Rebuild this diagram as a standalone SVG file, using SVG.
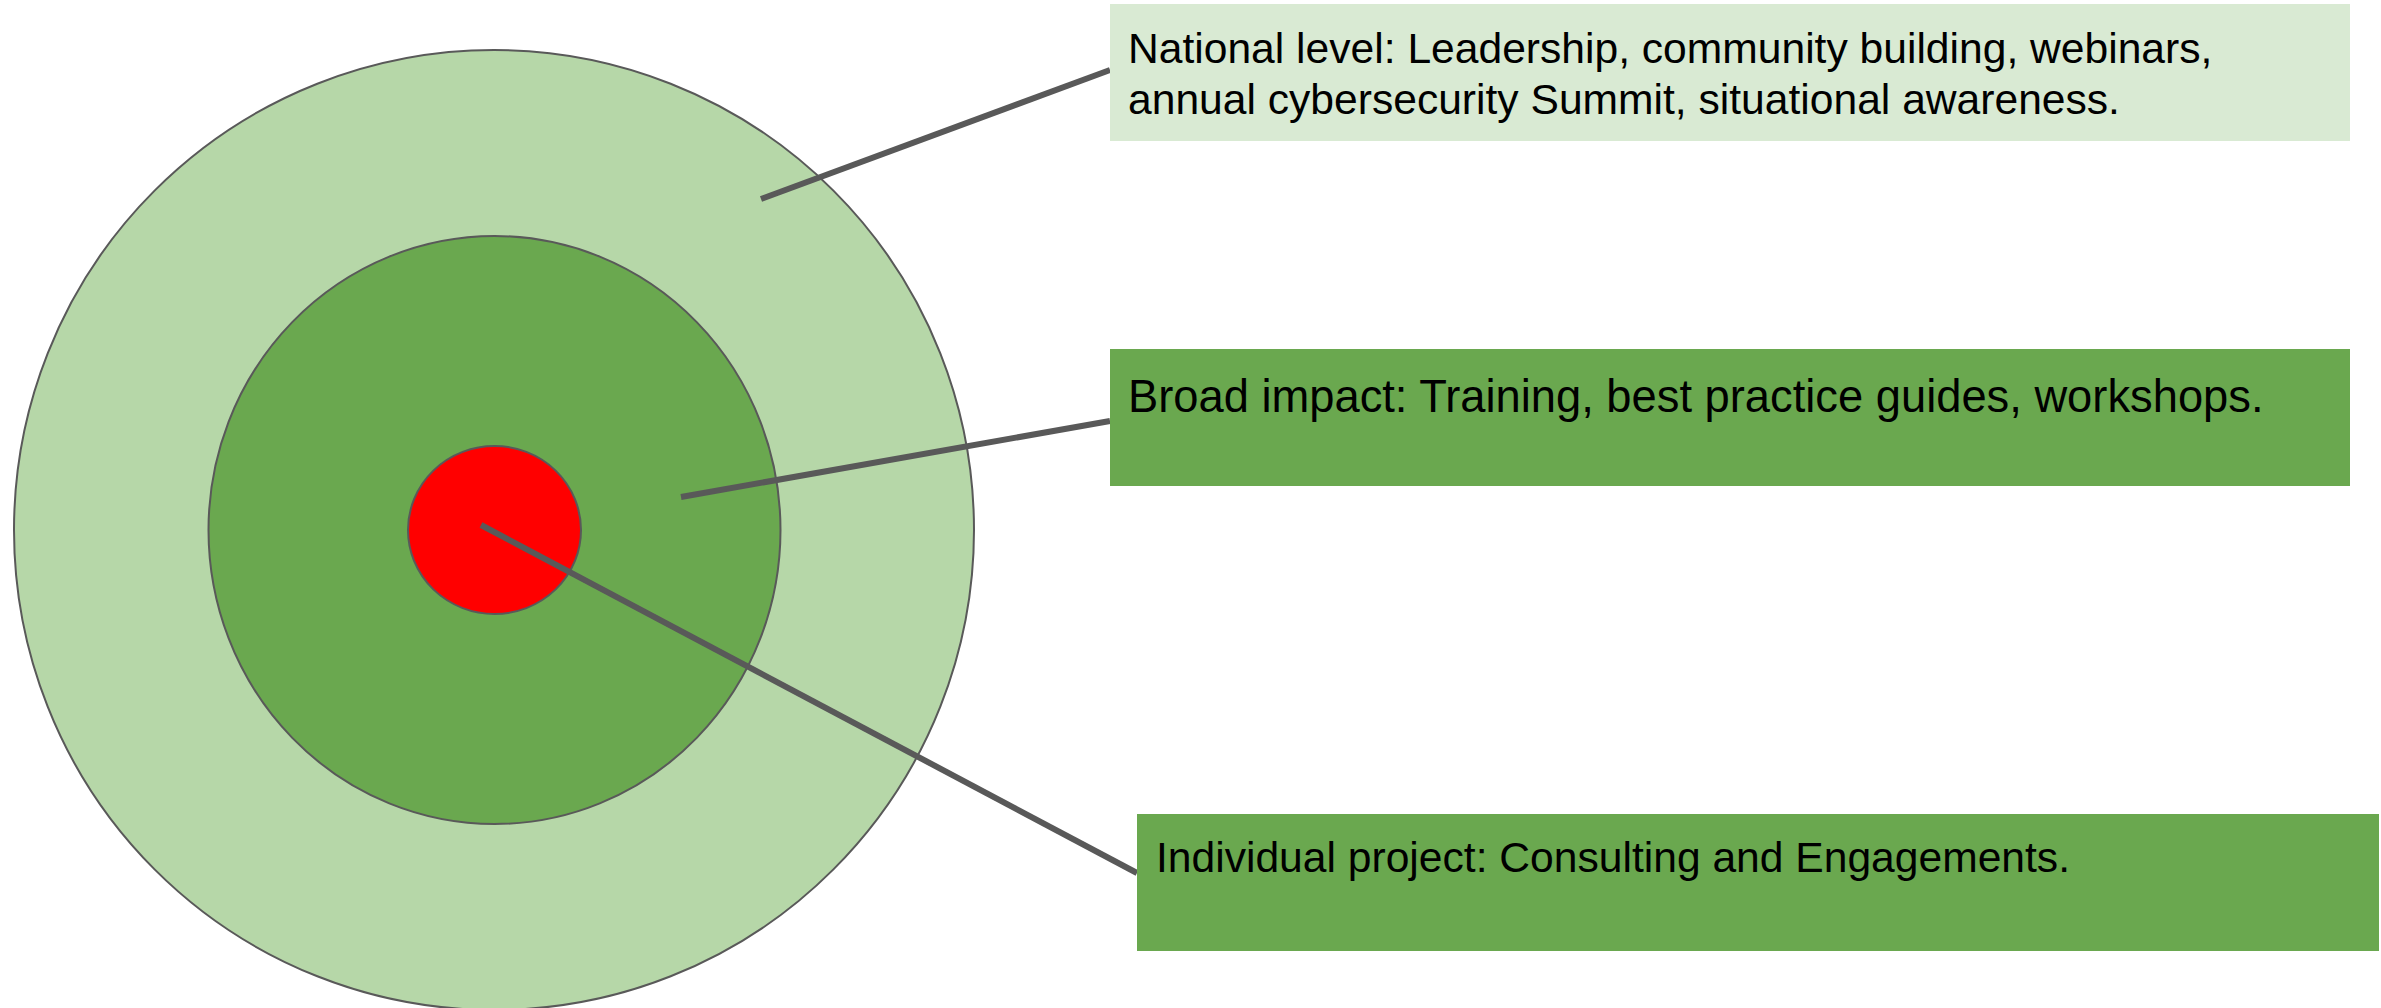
<svg xmlns="http://www.w3.org/2000/svg" width="2381" height="1008" viewBox="0 0 2381 1008">
  <style>
    .ring { stroke: #595959; stroke-width: 2; }
    .lead { stroke: #595959; stroke-width: 6; fill: none; }
    .label { font-family: "Liberation Sans", Arial, sans-serif; font-size: 42.6px; fill: #000000; }
    .label-lg { font-size: 45.3px; }
  </style>
  <rect x="0" y="0" width="2381" height="1008" fill="#ffffff"/>

  <!-- Concentric target -->
  <g id="ring-national">
    <circle class="ring" cx="494" cy="530" r="480" fill="#b6d7a8"/>
  </g>
  <g id="ring-broad">
    <ellipse class="ring" cx="494.5" cy="530" rx="286" ry="294" fill="#6aa84f"/>
  </g>
  <g id="ring-individual">
    <ellipse class="ring" cx="494.5" cy="530" rx="86.5" ry="84" fill="#ff0000"/>
  </g>

  <!-- Leader lines from rings to their descriptions -->
  <g id="connectors">
    <line class="lead" x1="761" y1="199" x2="1110" y2="70"/>
    <line class="lead" x1="681" y1="497" x2="1110" y2="421"/>
    <line class="lead" x1="481" y1="525" x2="1137" y2="873"/>
  </g>

  <!-- Description boxes -->
  <g id="box-national">
    <rect x="1110" y="4" width="1240" height="137" fill="#d9ead3"/>
    <text class="label" x="1128" y="63">National level: Leadership, community building, webinars,</text>
    <text class="label" x="1128" y="114">annual cybersecurity Summit, situational awareness.</text>
  </g>
  <g id="box-broad">
    <rect x="1110" y="349" width="1240" height="137" fill="#6aa84f"/>
    <text class="label label-lg" x="1128" y="412">Broad impact: Training, best practice guides, workshops.</text>
  </g>
  <g id="box-individual">
    <rect x="1137" y="814" width="1242" height="137" fill="#6aa84f"/>
    <text class="label" x="1156" y="872">Individual project: Consulting and Engagements.</text>
  </g>
</svg>
